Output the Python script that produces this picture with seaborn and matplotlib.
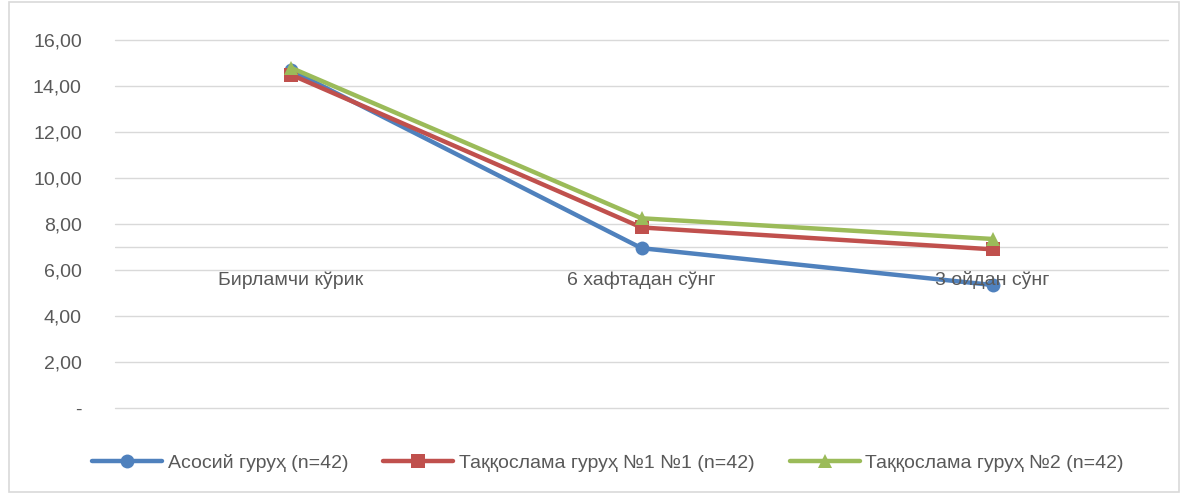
import pandas as pd
import numpy as np
import matplotlib.pyplot as plt
import seaborn as sns
from matplotlib.patches import Rectangle
from matplotlib.ticker import FuncFormatter

categories = ['Бирламчи кўрик', '6 хафтадан сўнг', '3 ойдан сўнг']
series_names = ['Асосий гуруҳ (n=42)',
                'Таққослама гуруҳ №1 №1 (n=42)',
                'Таққослама гуруҳ №2 (n=42)']
main_group = [14.70, 6.95, 5.35]
compare_1 = [14.50, 7.85, 6.90]
compare_2 = [14.80, 8.25, 7.35]

colors = ['#4F81BD', '#C0504D', '#9BBB59']
markers = ['o', 's', '^']

rows = []
for name, vals in zip(series_names, [main_group, compare_1, compare_2]):
    for i, v in enumerate(vals):
        rows.append({'pos': i, 'value': v, 'group': name})
df = pd.DataFrame(rows)

sns.set_style('white')
plt.rcParams['font.family'] = ['Liberation Sans', 'DejaVu Sans']
text_color = '#595959'

fig = plt.figure(figsize=(11.87, 4.94), dpi=100)
ax = fig.add_axes([0.097, 0.174, 0.887, 0.745])

for y in range(0, 17, 2):
    ax.axhline(y, color='#D9D9D9', lw=1, zorder=0, clip_on=False)
ax.axhline(7, color='#D9D9D9', lw=1, zorder=0)

sns.lineplot(data=df, x='pos', y='value', hue='group', style='group',
             palette=colors, markers=markers, dashes=False, lw=3.2,
             markersize=10, markeredgewidth=0, ax=ax, legend=True, zorder=3)

ax.set_xlim(-0.5, 2.5)
ax.set_ylim(0, 16)
ax.set_xticks([])
ax.set_yticks(range(0, 17, 2))
ax.yaxis.set_major_formatter(FuncFormatter(
    lambda v, p: '-' if v == 0 else f'{v:.2f}'.replace('.', ',')))
ax.tick_params(axis='y', length=0, labelsize=14, labelcolor=text_color, pad=24)
ax.set_xlabel('')
ax.set_ylabel('')
for s in ax.spines.values():
    s.set_visible(False)

for i, c in enumerate(categories):
    ax.annotate(c, (i, 7), xytext=(0, -33), textcoords='offset pixels',
                ha='center', va='center', fontsize=14, color=text_color)

handles, labels = ax.get_legend_handles_labels()
ax.legend(handles, labels, loc='center', bbox_to_anchor=(0.468, -0.15),
          ncol=3, frameon=False, fontsize=14, labelcolor=text_color,
          handlelength=3.6, handletextpad=0.3, columnspacing=1.8)

fig.patches.append(Rectangle((0.008, 0.004), 0.985, 0.992, transform=fig.transFigure,
                             fill=False, edgecolor='#D9D9D9', lw=1.2))

fig.savefig('out.png', dpi=100)
